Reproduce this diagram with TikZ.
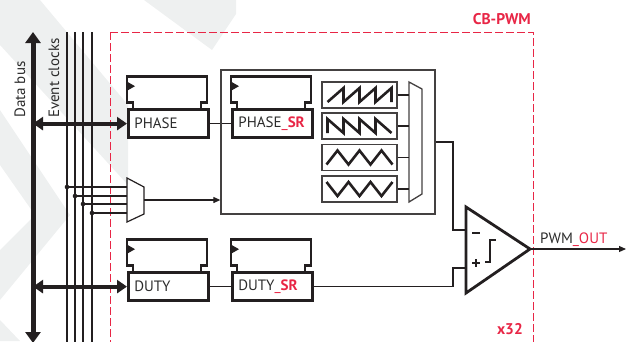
\documentclass[tikz,border=0pt]{standalone}
\usepackage{fontspec}
\setmainfont{PT Sans}
\setsansfont{PT Sans}
\usetikzlibrary{arrows.meta}
\definecolor{ink}{HTML}{231F20}
\definecolor{txt}{HTML}{2B2B2B}
\definecolor{cbred}{RGB}{232,38,70}
\definecolor{wm}{HTML}{EEF0F0}
\newcommand{\regtop}[1]{%
  \draw[regline] ([xshift=6pt]#1.north west) -- ++(0,-6) -- ++(-6,0) -- ++(0,-26) -- ++(80,0) -- ++(0,26) -- ++(-6,0) -- ++(0,6);
  \fill[ink] ([shift={(1,-18)}]#1.north west) -- ++(7,-4) -- ++(-7,-4) -- cycle;}
\tikzset{
  lbl/.style={font=\fontsize{15}{15}\selectfont, text=txt, inner sep=0pt},
  redb/.style={font=\fontsize{15.5}{15.5}\selectfont\bfseries, text=cbred, inner sep=0pt},
  regbox/.style={draw=ink, line width=2.8pt, minimum width=80pt, minimum height=28pt,
     inner xsep=6pt, inner ysep=0pt, text width=68pt, align=left, anchor=south west,
     font=\fontsize{15}{15}\selectfont, text=txt},
  regline/.style={draw=ink, line width=2.8pt, line join=miter},
  bigbox/.style={draw=ink!85, line width=1.3pt, minimum width=214pt, minimum height=144pt, inner sep=0pt},
  wbox/.style={draw=ink!85, line width=1.4pt, minimum width=75pt, minimum height=26pt, inner sep=0pt},
  wave/.style={draw=ink, line width=2.6pt, line join=miter},
  wire/.style={draw=ink, line width=1.1pt},
  bus/.style={draw=ink, line width=5pt, {Triangle[width=15pt,length=11pt]}-{Triangle[width=15pt,length=11pt]}},
  busarrow/.style={draw=ink, line width=4pt, {Triangle[width=13pt,length=10pt]}-{Triangle[width=13pt,length=10pt]}},
  cbframe/.style={draw=cbred, line width=1pt, dash pattern=on 8pt off 3pt},
  dotc/.style={circle, fill=ink, inner sep=0pt, minimum size=4.6pt},
  thick2/.style={draw=ink, line width=2.8pt, line join=miter},
}
\begin{document}
\begin{tikzpicture}[x=1pt,y=-1pt]
\useasboundingbox (0,0) rectangle (626,341);
\clip (0,0) rectangle (626,341);
% watermark
\fill[wm] (144,0) -- (236,0) -- (236,14) -- (212,50) -- cycle;
\fill[wm] (0,0) -- (40,0) -- (128,105) -- (128,185) -- (0,45) -- cycle;
\fill[wm] (0,110) -- (70,215) -- (0,300) -- (0,250) -- (35,215) -- (0,165) -- cycle;
\fill[wm] (0,320) -- (20,341) -- (0,341) -- cycle;
% frame
\draw[cbframe] (110,32) -- (533,32) -- (533,350);
\draw[cbframe] (110,32) -- (110,350);
\node[redb, anchor=base east] (cbpwm) at (531,24) {CB-PWM};
\node[redb, anchor=base east] (x32) at (523,334) {x32};
% buses
\coordinate (dbtop) at (33,32);
\coordinate (dbbot) at (33,343);
\draw[bus] (dbtop) -- (dbbot);
\node[lbl, rotate=90, anchor=base west] (dbl) at (25,118) {Data bus};
\node[lbl, rotate=90, anchor=base west] (ecl) at (59,118) {Event clocks};
\foreach \i/\x in {1/67,2/75,3/83,4/92}{
  \coordinate (ck\i t) at (\x,32);
  \coordinate (ck\i b) at (\x,345);
  \draw[wire, line width=1.2pt] (ck\i t) -- (ck\i b);
}
% registers
\node[regbox] (phase) at (127,139) {PHASE};
\node[regbox] (phasesr) at (231,139) {PHASE{\color{cbred}\_\textbf{SR}}};
\node[regbox] (duty) at (127,302) {DUTY};
\node[regbox] (dutysr) at (231,302) {DUTY{\color{cbred}\_\textbf{SR}}};
\regtop{phase}\regtop{phasesr}\regtop{duty}\regtop{dutysr}
\draw[busarrow] (phase.west -| dbtop) -- (phase.west);
\draw[busarrow] (duty.west -| dbtop) -- (duty.west);
\draw[wire] (phase.east) -- (phasesr.west);
\draw[wire] (duty.east) -- (dutysr.west);
% core box
\node[bigbox] (core) at (328,142) {};
\node[wbox] (w1) at (359.5,95) {};
\node[wbox] (w2) at (359.5,126) {};
\node[wbox] (w3) at (359.5,157.5) {};
\node[wbox] (w4) at (359.5,189) {};
\draw[wave, shift={(w1.center)}] (-32,7) -- (-16,-7) -- (-16,7) -- (0,-7) -- (0,7) -- (16,-7) -- (16,7) -- (32,-7) -- (32,7);
\draw[wave, shift={(w2.center)}] (-32,7) -- (-32,-7) -- (-16,7) -- (-16,-7) -- (0,7) -- (0,-7) -- (16,7) -- (16,-7) -- (32,7);
\draw[wave, shift={(w3.center)}] (-33,7) -- (-22,-7) -- (-11,7) -- (0,-7) -- (11,7) -- (22,-7) -- (33,7);
\draw[wave, shift={(w4.center)}] (-33,-7) -- (-22,7) -- (-11,-7) -- (0,7) -- (11,-7) -- (22,7) -- (33,-7);
% big mux
\coordinate (mxl) at (409,82);
\draw[draw=ink!85, line width=1.3pt] (409,82) -- (422,89) -- (422,194) -- (409,202) -- cycle;
\foreach \w in {w1,w2,w3,w4}{\draw[wire] (\w.east) -- (\w.east -| mxl);}
% clock mux
\coordinate (smx) at (127,200);
\draw[draw=ink, line width=1.2pt] (127,178) -- (144,187) -- (144,214) -- (127,222) -- cycle;
\foreach \i/\y in {1/187,2/196,3/204,4/213}{
  \node[dotc] (d\i) at (ck\i t |- 0,\y) {};
  \draw[wire] (d\i.center) -- (d\i.center -| smx);
}
\coordinate (smxo) at (144,200);
\draw[wire, -{Triangle[length=7pt,width=6pt]}] (smxo) -- (smxo -| core.west);
% comparator
\coordinate (cmpm) at (466,230);
\coordinate (cmpp) at (466,268);
\coordinate (cmpt) at (530,249);
\coordinate (jx) at (453,0);
\draw[thick2] (466,207) -- (cmpt) -- (466,293) -- cycle;
\draw[thick2] (472,233) -- (480,233);
\draw[thick2] (472,263) -- (480,263) (476,259) -- (476,267);
\draw[thick2] (485,262) -- (490,262) -- (490,240) -- (496,240);
\draw[wire] (core.east |- 0,142) -- (jx |- 0,142) |- (cmpm);
\draw[wire] (dutysr.east) -- (dutysr.east -| jx) |- (cmpp);
\coordinate (pwmo) at (626,249);
\draw[wire, -{Triangle[length=7pt,width=6pt]}] (cmpt) -- (pwmo);
\node[lbl, anchor=base west] (pwml) at (540,243) {PWM{\color{cbred}\_OUT}};
\end{tikzpicture}
\end{document}
